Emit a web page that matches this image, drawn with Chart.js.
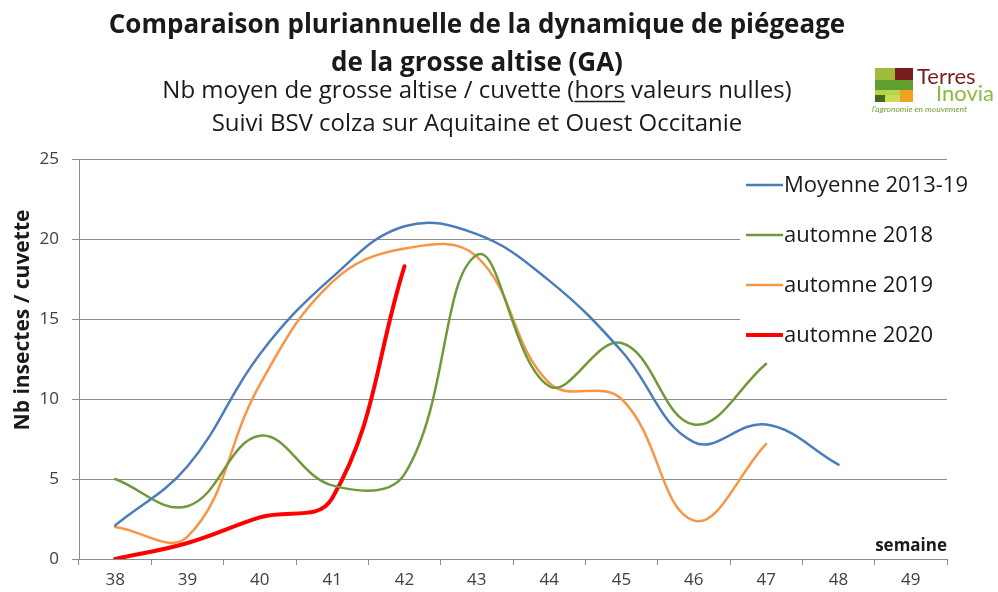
<!DOCTYPE html>
<html>
<head>
<meta charset="utf-8">
<script src="https://cdn.jsdelivr.net/npm/chart.js@4.4.1/dist/chart.umd.min.js"></script>
<style>
  body { margin: 0; background: #fff; }
  #wrap { position: relative; width: 998px; height: 592px; }
  .sq { position: absolute; }
  .logo-txt { position: absolute; font-family: Lato, sans-serif; white-space: nowrap; }
</style>
</head>
<body>
<div id="wrap">
  <canvas id="myChart" width="998" height="592"></canvas>
  <!-- logo Terres Inovia -->
  <div class="sq" style="left:875px;top:68px;width:20px;height:12px;background:#9dbd3a"></div>
  <div class="sq" style="left:895px;top:68px;width:18px;height:12px;background:#7a1c1c"></div>
  <div class="sq" style="left:875px;top:80px;width:38px;height:10px;background:#5f9e2f"></div>
  <div class="sq" style="left:875px;top:90px;width:25px;height:5px;background:#b9d34a"></div>
  <div class="sq" style="left:875px;top:95px;width:10px;height:7px;background:#3f6a1f"></div>
  <div class="sq" style="left:885px;top:95px;width:15px;height:7px;background:#c6dc5a"></div>
  <div class="sq" style="left:900px;top:90px;width:13px;height:12px;background:#f0a21e"></div>
  <div class="logo-txt" style="left:917px;top:62px;font-size:22px;color:#7a1f1f;">Terres</div>
  <div class="logo-txt" style="left:936px;top:79px;font-size:22px;color:#8cba3a;">Inovia</div>
  <div class="logo-txt" style="left:872px;top:104px;font-size:8.5px;color:#6f9e30;font-style:italic;">l'agronomie en mouvement</div>
</div>
<script>
const weeks = ["38", "39", "40", "41", "42", "43", "44", "45", "46", "47", "48", "49"];
const moyenne = [2.1, 5.8, 12.8, 17.6, 20.8, 20.3, 17.4, 13.0, 7.3, 8.4, 5.9, null];
const automne2018 = [5.0, 3.3, 7.7, 4.6, 5.3, 19.0, 10.8, 13.5, 8.4, 12.2, null, null];
const automne2019 = [2.0, 1.4, 10.9, 17.3, 19.4, 18.9, 11.0, 10.0, 2.4, 7.2, null, null];
const automne2020 = [0, 1.0, 2.6, 3.8, 18.3, null, null, null, null, null, null, null];
const yTicks = [0, 5, 10, 15, 20, 25];

const FONT = "'Open Sans', Lato, sans-serif";

// titres au-dessus du graphique
const titlePlugin = {
    id: "titres",
    afterDraw(chart) {
        const c = chart.ctx;
        const cx = 477;
        c.save();
        c.fillStyle = "#1a1a1a";
        c.textAlign = "center";
        c.textBaseline = "alphabetic";
        c.font = "bold 26px " + FONT;
        c.fillText("Comparaison pluriannuelle de la dynamique de piégeage", cx, 33);
        c.fillText("de la grosse altise (GA)", cx, 71);
        c.font = "24px " + FONT;
        const l3 = "Nb moyen de grosse altise / cuvette (hors valeurs nulles)";
        c.fillText(l3, cx, 98);
        c.fillText("Suivi BSV colza sur Aquitaine et Ouest Occitanie", cx, 131);
        // souligné sous "hors"
        const full = c.measureText(l3).width;
        const before = c.measureText("Nb moyen de grosse altise / cuvette (").width;
        const w = c.measureText("hors").width;
        const x0 = cx - full / 2 + before;
        c.strokeStyle = "#1a1a1a";
        c.lineWidth = 1.4;
        c.beginPath();
        c.moveTo(x0, 101.5);
        c.lineTo(x0 + w, 101.5);
        c.stroke();

        // titre axe Y
        c.save();
        c.translate(23, 320);
        c.rotate(-Math.PI / 2);
        c.font = "bold 21px " + FONT;
        c.textBaseline = "middle";
        c.fillText("Nb insectes / cuvette", 0, 0);
        c.restore();

        // "semaine"
        c.font = "bold 17px " + FONT;
        c.textAlign = "right";
        c.fillText("semaine", chart.chartArea.right, 551);
        c.restore();
    }
};

// légende dans la zone du graphique
const legendPlugin = {
    id: "legendeInterne",
    beforeDatasetsDraw(chart) {
        const c = chart.ctx;
        c.save();
        c.fillStyle = "#ffffff";
        c.fillRect(740, 165, 240, 190);
        c.font = "22px " + FONT;
        c.textBaseline = "middle";
        c.textAlign = "left";
        chart.data.datasets.forEach((ds, i) => {
            const y = 185 + i * 50;
            c.strokeStyle = ds.borderColor;
            c.lineWidth = ds.borderWidth;
            c.beginPath();
            c.moveTo(746, y);
            c.lineTo(783, y);
            c.stroke();
            c.fillStyle = "#1a1a1a";
            c.fillText(ds.label, 784, y + 1);
        });
        c.restore();
    }
};

const ctx = document.getElementById("myChart");
const myChart = new Chart(ctx, {
    type: "line",
    data: {
        labels: weeks,
        datasets: [{
            label: "Moyenne 2013-19",
            data: moyenne,
            borderColor: "#4a7ebb",
            borderWidth: 2.5,
        }, {
            label: "automne 2018",
            data: automne2018,
            borderColor: "#6f9a3a",
            borderWidth: 2.5,
        }, {
            label: "automne 2019",
            data: automne2019,
            borderColor: "#f79646",
            borderWidth: 2.5,
        }, {
            label: "automne 2020",
            data: automne2020,
            borderColor: "#ff0000",
            borderWidth: 4,
        }, ],
    },
    options: {
        responsive: false,
        animation: false,
        layout: {
            padding: { top: 159, right: 51, left: 0, bottom: 0 },
        },
        elements: {
            point: { radius: 0 },
            line: { tension: 0.4, fill: false, borderCapStyle: "round" },
        },
        plugins: {
            legend: { display: false },
            title: { display: false },
            tooltip: { enabled: false },
        },
        scales: {
            x: {
                offset: true,
                afterFit(s) { s.height = 33; },
                grid: {
                    offset: true,
                    drawOnChartArea: false,
                    drawTicks: true,
                    tickLength: 6,
                    color: "#8c8c8c",
                },
                border: { color: "#8c8c8c" },
                ticks: {
                    color: "#404040",
                    font: { family: FONT, size: 17 },
                    padding: 5,
                    maxRotation: 0,
                },
            },
            y: {
                min: 0,
                max: 25,
                afterFit(s) { s.width = 79; },
                afterBuildTicks(s) { s.ticks = yTicks.map(v => ({ value: v })); },
                grid: {
                    color: "#8c8c8c",
                    tickLength: 7,
                },
                border: { color: "#8c8c8c" },
                ticks: {
                    color: "#404040",
                    font: { family: FONT, size: 17 },
                    padding: 13,
                },
            },
        },
    },
    plugins: [legendPlugin, titlePlugin],
});
</script>
</body>
</html>
